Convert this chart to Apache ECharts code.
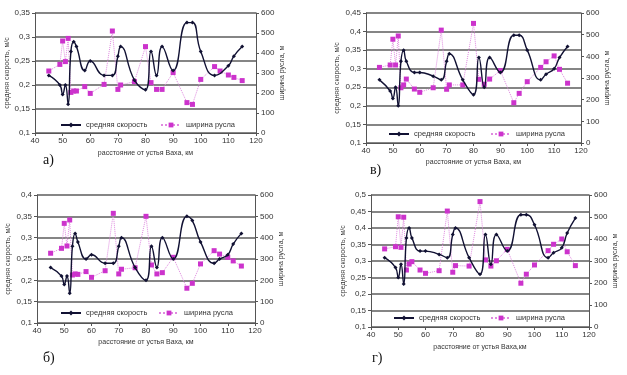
<!DOCTYPE html>
<html>
<head>
<meta charset="utf-8">
<script src="https://cdn.jsdelivr.net/npm/echarts@6/dist/echarts.min.js"></script>
<style>
  html, body { margin: 0; padding: 0; background: #fff; }
  #chart { width: 627px; height: 375px; }
</style>
</head>
<body>
<div id="chart"></div>
<script>
// расстояние от устья Ваха, км
var kmWidth = [45, 49, 50, 51, 52, 53, 54, 55, 58, 60, 65, 68, 70, 71, 76, 80, 82, 84, 86, 90, 95, 97, 100, 105, 107, 110, 112, 115];
var kmSpeedA = [45, 49, 50, 51, 52, 53, 54, 55, 58, 60, 65, 68, 70, 71, 76, 80, 82, 84, 86, 90, 95, 97, 100, 105, 110, 112, 115];
var kmSpeed = kmWidth;

// а)
var speedA = [0.22, 0.2, 0.18, 0.2, 0.16, 0.27, 0.29, 0.28, 0.23, 0.25, 0.22, 0.22, 0.26, 0.28, 0.21, 0.19, 0.27, 0.22, 0.28, 0.23, 0.33, 0.33, 0.27, 0.22, 0.24, 0.26, 0.28];
var widthA = [310, 343, 460, 357, 473, 203, 210, 210, 232, 198, 243, 510, 218, 240, 257, 432, 252, 218, 218, 302, 152, 143, 268, 332, 310, 290, 278, 262];
// б)
var speedB = [0.23, 0.21, 0.19, 0.21, 0.17, 0.28, 0.31, 0.29, 0.25, 0.26, 0.24, 0.24, 0.28, 0.30, 0.23, 0.20, 0.28, 0.23, 0.30, 0.25, 0.35, 0.34, 0.29, 0.24, 0.25, 0.26, 0.285, 0.31];
var widthB = [327, 350, 467, 361, 483, 225, 230, 228, 241, 214, 245, 514, 230, 252, 259, 500, 272, 230, 236, 308, 163, 186, 277, 339, 323, 308, 291, 267];
// в)
var speedV = [0.27, 0.24, 0.22, 0.25, 0.20, 0.32, 0.35, 0.32, 0.29, 0.29, 0.28, 0.27, 0.32, 0.34, 0.27, 0.23, 0.33, 0.25, 0.33, 0.29, 0.39, 0.39, 0.35, 0.27, 0.285, 0.30, 0.33, 0.36];
var widthV = [349, 360, 479, 360, 494, 255, 268, 295, 249, 234, 255, 521, 248, 268, 268, 552, 294, 271, 295, 334, 186, 229, 283, 349, 375, 402, 340, 276];
// г)
var speedG = [0.31, 0.28, 0.25, 0.29, 0.23, 0.37, 0.40, 0.37, 0.33, 0.33, 0.32, 0.31, 0.38, 0.40, 0.31, 0.26, 0.38, 0.29, 0.38, 0.33, 0.44, 0.44, 0.41, 0.31, 0.325, 0.34, 0.385, 0.43];
var widthG = [355, 365, 501, 362, 499, 259, 286, 297, 259, 244, 256, 527, 249, 279, 277, 570, 305, 277, 301, 353, 199, 240, 282, 347, 376, 400, 342, 279];

var speedMax = [0.35, 0.4, 0.45, 0.5];
var panelLetters = ["а)", "б)", "в)", "г)"];
var xTitles = ["расстояние от устья Ваха, км", "расстояние от устья Ваха, км", "расстояние от устья Ваха, км", "расстояние от устья Ваха,км"];

var SPEED = "средняя скорость";
var WIDTH = "ширина русла";

// layout of the four panels (а, б, в, г)
var panels = [
    { grid: [35, 13, 221, 120], lg: 21, rg: 17, xg: 17, leg: [60, 160, 121], letter: [43, 160], km: kmSpeedA, speed: speedA, width: widthA },
    { grid: [37, 195, 218, 128], lg: 25, rg: 18, xg: 16, leg: [60, 158, 309], letter: [43, 358], km: kmSpeed, speed: speedB, width: widthB },
    { grid: [366, 13, 215, 130], lg: 25, rg: 20, xg: 16, leg: [388, 490, 130], letter: [370, 170], km: kmSpeed, speed: speedV, width: widthV },
    { grid: [371, 195, 218, 132], lg: 24, rg: 17, xg: 17, leg: [393, 490, 314], letter: [372, 358], km: kmSpeed, speed: speedG, width: widthG }
];

var font = "Liberation Sans";
var txt = "#333";
var axisLn = { show: true, lineStyle: { color: "#555", width: 1 } };

var grids = [], xAxes = [], yAxes = [], series = [], legends = [], graphics = [];

function pairs(xs, ys) {
    var out = [];
    for (var i = 0; i < xs.length; i++) out.push([xs[i], ys[i]]);
    return out;
}

panels.forEach(function (p, i) {
    grids.push({ left: p.grid[0], top: p.grid[1], width: p.grid[2], height: p.grid[3], containLabel: false });

    xAxes.push({
        type: "value", gridIndex: i, min: 40, max: 120, interval: 10,
        name: xTitles[i], nameLocation: "middle", nameGap: p.xg,
        nameTextStyle: { fontFamily: font, fontSize: 7, color: txt },
        axisLine: axisLn,
        axisTick: { show: true, length: 3, lineStyle: { color: "#555" } },
        axisLabel: { fontFamily: font, fontSize: 8, color: txt, margin: 4 },
        splitLine: { show: false }
    });

    yAxes.push({
        type: "value", gridIndex: i, position: "left", min: 0.1, max: speedMax[i], interval: 0.05,
        name: "средняя скорость, м/с", nameLocation: "middle", nameGap: p.lg, nameRotate: 90,
        nameTextStyle: { fontFamily: font, fontSize: 7, color: txt },
        axisLine: axisLn,
        axisTick: { show: true, length: 3, lineStyle: { color: "#555" } },
        axisLabel: {
            fontFamily: font, fontSize: 8, color: txt, margin: 5,
            formatter: function (v) { return String(+v.toFixed(2)).replace(".", ","); }
        },
        splitLine: { show: true, lineStyle: { color: "#5c5c5c", width: 1.5 } }
    });

    // title reads bottom-to-top, like the left one
    yAxes.push({
        type: "value", gridIndex: i, position: "right", min: 0, max: 600, interval: 100,
        name: "ширина русла, м", nameLocation: "middle", nameGap: p.rg, nameRotate: 90,
        nameTextStyle: { fontFamily: font, fontSize: 7, color: txt },
        axisLine: axisLn,
        axisTick: { show: true, length: 3, lineStyle: { color: "#555" } },
        axisLabel: { fontFamily: font, fontSize: 8, color: txt, margin: 5 },
        splitLine: { show: false }
    });

    series.push({
        name: SPEED, type: "line", xAxisIndex: i, yAxisIndex: i * 2,
        data: pairs(p.km, p.speed),
        smooth: 0.5,
        symbol: "diamond", symbolSize: 4,
        lineStyle: { color: "#111133", width: 1.4 },
        itemStyle: { color: "#111133" },
        z: 3
    });
    series.push({
        name: WIDTH, type: "line", xAxisIndex: i, yAxisIndex: i * 2 + 1,
        data: pairs(kmWidth, p.width),
        symbol: "rect", symbolSize: 5,
        lineStyle: { color: "#e08ae0", width: 1, type: "dotted" },
        itemStyle: { color: "#cc33cc" },
        z: 2
    });

    legends.push({
        data: [SPEED], left: p.leg[0], top: p.leg[2], padding: 0,
        itemWidth: 20, itemHeight: 6, itemGap: 5,
        textStyle: { fontFamily: font, fontSize: 7.5, color: txt }
    });
    legends.push({
        data: [WIDTH], left: p.leg[1], top: p.leg[2], padding: 0,
        itemWidth: 20, itemHeight: 6, itemGap: 5,
        textStyle: { fontFamily: font, fontSize: 7.5, color: txt }
    });

    graphics.push({
        type: "text", x: p.letter[0], y: p.letter[1],
        style: { text: panelLetters[i], font: "14px 'Liberation Serif'", fill: "#111", verticalAlign: "middle" }
    });
});

var chart = echarts.init(document.getElementById("chart"), null, { renderer: "canvas" });
chart.setOption({
    backgroundColor: "#fff",
    animation: false,
    grid: grids,
    xAxis: xAxes,
    yAxis: yAxes,
    legend: legends,
    series: series,
    graphic: graphics
});
</script>
</body>
</html>
